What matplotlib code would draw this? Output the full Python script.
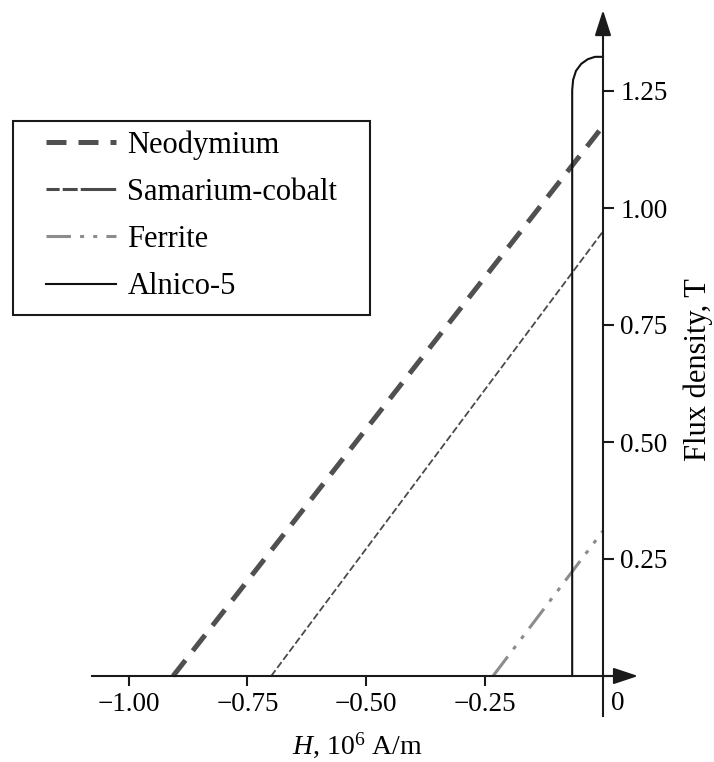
import matplotlib
matplotlib.use("Agg")
import matplotlib.pyplot as plt
from matplotlib.lines import Line2D
from matplotlib.patches import Rectangle

# ---- data (H in 10^6 A/m, B in T) ----
neo_H = [-0.907, 0.0]
neo_B = [0.0, 1.175]
smco_H = [-0.700, 0.0]
smco_B = [0.0, 0.950]
ferrite_H = [-0.232, 0.0]
ferrite_B = [0.0, 0.310]
alnico_H = [-0.065, -0.065, -0.063, -0.057, -0.046, -0.032, -0.017, 0.0]
alnico_B = [0.0, 1.252, 1.274, 1.293, 1.308, 1.318, 1.323, 1.323]

x_ticks = [-1.00, -0.75, -0.50, -0.25]
x_ticklabels = ["\u22121.00", "\u22120.75", "\u22120.50", "\u22120.25"]
y_ticks = [0.25, 0.50, 0.75, 1.00, 1.25]
y_ticklabels = ["0.25", "0.50", "0.75", "1.00", "1.25"]
labels = ["Neodymium", "Samarium-cobalt", "Ferrite", "Alnico-5"]

plt.rcParams['font.family'] = ['Liberation Serif', 'DejaVu Serif']
plt.rcParams['mathtext.fontset'] = 'custom'
plt.rcParams['mathtext.rm'] = 'Liberation Serif'
plt.rcParams['mathtext.it'] = 'Liberation Serif:italic'

W, H = 714, 762
fig = plt.figure(figsize=(W / 100, H / 100), dpi=100)
ax = fig.add_axes([0, 0, 1, 1])
# pixel mapping: x_px = 603 + 474*H ; y_px = 676 - 468*B
ax.set_xlim(-603 / 474, (W - 603) / 474)
ax.set_ylim(-(H - 676) / 468, 676 / 468)
ax.patch.set_alpha(0)

axis_col = '#1a1a1a'
for s in ['top', 'left']:
    ax.spines[s].set_visible(False)
ax.spines['bottom'].set_position(('data', 0))
ax.spines['right'].set_position(('data', 0))
ax.spines['bottom'].set_bounds(-1.078, 0.03)
ax.spines['right'].set_bounds(-0.085, 1.38)
for s in ['bottom', 'right']:
    ax.spines[s].set_linewidth(1.5)
    ax.spines[s].set_color(axis_col)

# arrows on axes
ax.annotate('', xy=(0.074, 0), xytext=(0.0, 0),
            arrowprops=dict(arrowstyle='-|>,head_length=0.75,head_width=0.25',
                            color=axis_col, lw=1.5, shrinkA=0, shrinkB=0,
                            mutation_scale=20))
ax.annotate('', xy=(0, 1.423), xytext=(0, 1.36),
            arrowprops=dict(arrowstyle='-|>,head_length=0.78,head_width=0.25',
                            color=axis_col, lw=1.5, shrinkA=0, shrinkB=0,
                            mutation_scale=20))

ax.xaxis.set_ticks_position('bottom')
ax.yaxis.set_ticks_position('right')
ax.set_xticks(x_ticks)
ax.set_xticklabels(x_ticklabels)
ax.set_yticks(y_ticks)
ax.set_yticklabels(y_ticklabels)
ax.tick_params(axis='x', direction='out', length=7.5, width=1.5, pad=4,
               labelsize=19.5, color=axis_col)
ax.tick_params(axis='y', direction='out', length=8, width=1.5, pad=4.5,
               labelsize=19.5, color=axis_col)
ax.annotate('0', xy=(0, 0), xytext=(5.5, -20), textcoords='offset points',
            ha='left', va='center', fontsize=19.5)

# curves
neo_style = dict(color='#505050', lw=3.6, dashes=(4, 2.4), solid_capstyle='butt',
                 dash_capstyle='butt')
smco_style = dict(color='#4a4a4a', lw=1.3, dashes=(4, 1.6))
fer_style = dict(color='#8c8c8c', lw=2.2, dashes=(8, 3, 1.3, 3, 1.3, 3))
aln_style = dict(color='#111111', lw=1.5)

ax.plot(neo_H, neo_B, **neo_style)
ax.plot(smco_H, smco_B, **smco_style)
ax.plot(ferrite_H, ferrite_B, **fer_style)
ax.plot(alnico_H, alnico_B, **aln_style)

# legend
handles = [
    Line2D([], [], **neo_style),
    Line2D([], [], color='#4a4a4a', lw=2.2, dashes=(4.3, 1, 4.9, 1, 11.6, 1)),
    Line2D([], [], **fer_style),
    Line2D([], [], **aln_style),
]
leg = ax.legend(handles, labels, loc='upper left', frameon=False,
                bbox_to_anchor=(46 / W, 1 - 130 / H), bbox_transform=fig.transFigure,
                borderaxespad=0, borderpad=0, fontsize=22, handlelength=2.3,
                handletextpad=0.36, labelspacing=0.6)
fig.patches.append(Rectangle((13 / W, 1 - 315 / H), (370 - 13) / W, (315 - 121) / H,
                             transform=fig.transFigure, fill=False,
                             edgecolor='#1a1a1a', lw=1.5, zorder=5))

fig.text(357 / W, 1 - 745 / H, r'$\mathit{H}$, 10$^{6}$ A/m', ha='center',
         va='center', fontsize=20)
fig.text(698 / W, 1 - 370 / H, 'Flux density, T', rotation=90, ha='center',
         va='center', fontsize=22)

fig.savefig('out.png', dpi=100)
